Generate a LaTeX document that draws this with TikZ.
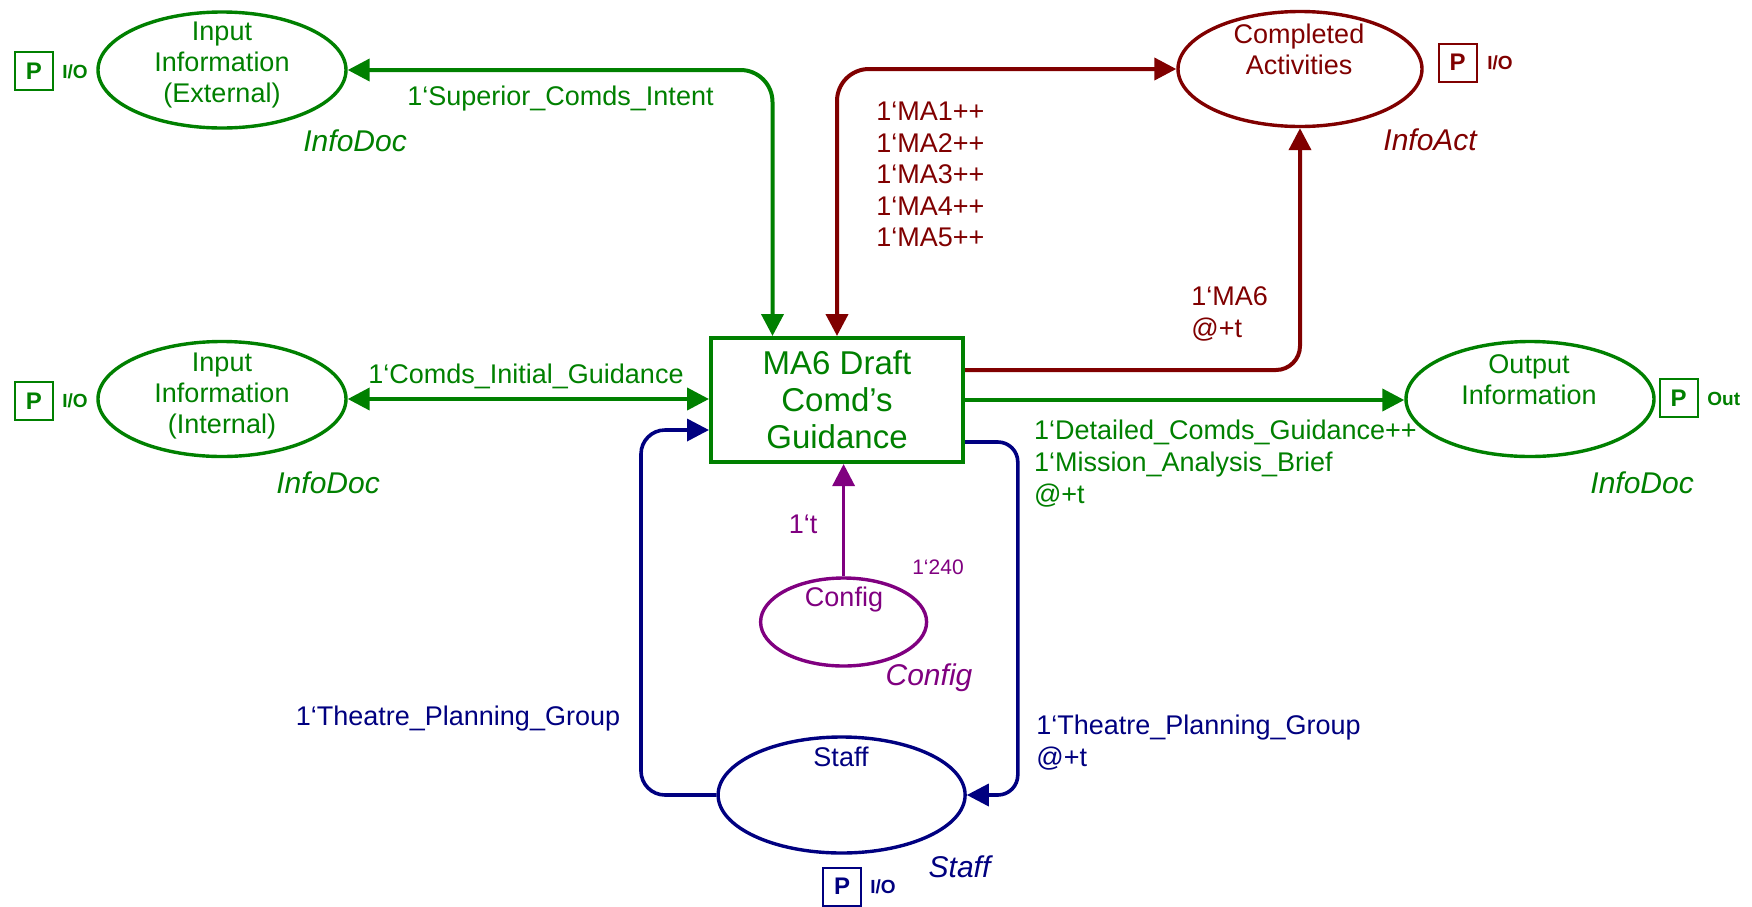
\documentclass[tikz,border=0pt]{standalone}
\usepackage{fontspec}
\setmainfont{Liberation Sans}
\usetikzlibrary{arrows.meta,calc,shapes.geometric}
\definecolor{cpngreen}{RGB}{0,128,0}
\definecolor{cpnbrown}{RGB}{128,0,0}
\definecolor{cpnblue}{RGB}{0,0,128}
\definecolor{cpnpurple}{RGB}{128,0,128}

\begin{document}
\begin{tikzpicture}[x=0.5pt,y=-0.5pt,
  cpnplace/.style={ellipse,draw,line width=1.7pt,inner sep=0pt},
  placetext/.style={align=center,inner sep=0pt,font=\fontsize{13.5}{15.6}\selectfont},
  trbox/.style={rectangle,draw,line width=2pt,inner sep=0pt,minimum width=126pt,minimum height=62pt,
    align=center,font=\fontsize{16.5}{18.5}\selectfont},
  cpnarc/.style={line width=2pt,-{Triangle[length=11pt,width=11pt]}},
  cpnbiarc/.style={line width=2pt,{Triangle[length=11pt,width=11pt]}-{Triangle[length=11pt,width=11pt]}},
  inscr/.style={inner sep=0pt,font=\fontsize{13.5}{16}\selectfont,align=left},
  ctype/.style={inner sep=0pt,font=\fontsize{15}{18}\selectfont\itshape},
  portbox/.style={draw,line width=1pt,minimum size=19pt,inner sep=0pt,font=\fontsize{12}{12}\selectfont\bfseries},
  porttag/.style={inner sep=0pt,font=\fontsize{9.5}{10}\selectfont\bfseries,anchor=west},
]
\useasboundingbox (0,0) rectangle (1752,906);
\fill[white] (0,0) rectangle (1752,906);

% places
\node[cpnplace,cpngreen,minimum width=124pt,minimum height=58pt] (ext) at (222,70) {};
\node[placetext,cpngreen] (ext-t) at (222,65) {Input\\Information\\(External)};
\node[cpnplace,cpngreen,minimum width=124pt,minimum height=57.5pt] (int) at (222,399) {};
\node[placetext,cpngreen] (int-t) at (222,396) {Input\\Information\\(Internal)};
\node[cpnplace,cpnbrown,minimum width=122pt,minimum height=57.5pt] (comp) at (1300,69) {};
\node[placetext,cpnbrown] (comp-t) at (1299,49) {Completed\\Activities};
\node[cpnplace,cpngreen,minimum width=124pt,minimum height=57.5pt] (out) at (1530,399) {};
\node[placetext,cpngreen] (out-t) at (1529,380) {Output\\Information};
\node[cpnplace,cpnpurple,minimum width=83pt,minimum height=44pt] (config) at (843.6,622) {};
\node[placetext,cpnpurple] (config-t) at (844,600) {Config};
\node[cpnplace,cpnblue,minimum width=123.5pt,minimum height=58pt] (staff) at (841.6,795) {};
\node[placetext,cpnblue] (staff-t) at (841,757) {Staff};

% transition
\node[trbox,cpngreen] (trans) at (837,400) {MA6 Draft\\Comd's\\Guidance};

% arcs
\draw[cpnbiarc,cpngreen,rounded corners=16pt] (ext.east) -| ($(trans.north west)+(63.5,0)$);
\draw[cpnbiarc,cpnbrown,rounded corners=16pt] (comp.west) -| (trans.north);
\draw[cpnarc,cpnbrown,rounded corners=12pt] ($(trans.east)+(0,-30)$) -| (comp.south);
\draw[cpnbiarc,cpngreen] (int.east) -- (int.east -| trans.west);
\draw[cpnarc,cpngreen] (trans.east) -- (trans.east -| out.west);
\draw[cpnarc,cpnpurple,line width=1.6pt] (config.north) -- (config.north |- trans.south);
\draw[cpnarc,cpnblue,line width=1.8pt,rounded corners=12pt] (staff.west) -| ($(trans.west)+(-68,30)$) -- ($(trans.west)+(0,30)$);
\draw[cpnarc,cpnblue,line width=1.8pt,rounded corners=10pt] ($(trans.east)+(0,42)$) -| ($(staff.east)+(51,0)$) -- (staff.east);

% inscriptions
\node[inscr,cpngreen,anchor=west] (l-sup) at (407,99) {1‘Superior\_Comds\_Intent};
\node[inscr,cpngreen,anchor=west] (l-init) at (368,376) {1‘Comds\_Initial\_Guidance};
\node[inscr,cpnbrown,anchor=west,font=\fontsize{13.5}{15.75}\selectfont] (l-ma) at (876,174.5) {1‘MA1++\\1‘MA2++\\1‘MA3++\\1‘MA4++\\1‘MA5++};
\node[inscr,cpnbrown,anchor=west] (l-ma6) at (1191,314) {1‘MA6\\@+t};
\node[inscr,cpngreen,anchor=west] (l-out) at (1033.6,464) {1‘Detailed\_Comds\_Guidance++\\1‘Mission\_Analysis\_Brief\\@+t};
\node[inscr,cpnpurple] (l-t) at (803,524) {1‘t};
\node[cpnpurple,inner sep=0pt,font=\fontsize{10.5}{11}\selectfont] (config-init) at (938,567) {1‘240};
\node[inscr,cpnblue] (l-tpg) at (458,719) {1‘Theatre\_Planning\_Group};
\node[inscr,cpnblue,anchor=west] (l-tpg2) at (1036,742.5) {1‘Theatre\_Planning\_Group\\@+t};

% colour sets
\node[ctype,cpngreen,anchor=west] (ext-ty) at (303,141) {InfoDoc};
\node[ctype,cpngreen,anchor=west] (int-ty) at (276,483) {InfoDoc};
\node[ctype,cpnbrown,anchor=west] (comp-ty) at (1383,140) {InfoAct};
\node[ctype,cpngreen,anchor=west] (out-ty) at (1590,483) {InfoDoc};
\node[ctype,cpnpurple] (config-ty) at (929,678) {Config};
\node[ctype,cpnblue] (staff-ty) at (959.5,866.7) {Staff};

% port tags
\node[portbox,cpngreen] (ext-p) at (34,71) {P};
\node[porttag,cpngreen] (ext-io) at (62,72) {I/O};
\node[portbox,cpngreen] (int-p) at (34,401) {P};
\node[porttag,cpngreen] (int-io) at (62,401) {I/O};
\node[portbox,cpnbrown] (comp-p) at (1457.5,62.5) {P};
\node[porttag,cpnbrown] (comp-io) at (1487,63) {I/O};
\node[portbox,cpngreen] (out-p) at (1678.5,398) {P};
\node[porttag,cpngreen] (out-io) at (1707,399) {Out};
\node[portbox,cpnblue] (staff-p) at (842,886.5) {P};
\node[porttag,cpnblue] (staff-io) at (870,887) {I/O};
\end{tikzpicture}
\end{document}
